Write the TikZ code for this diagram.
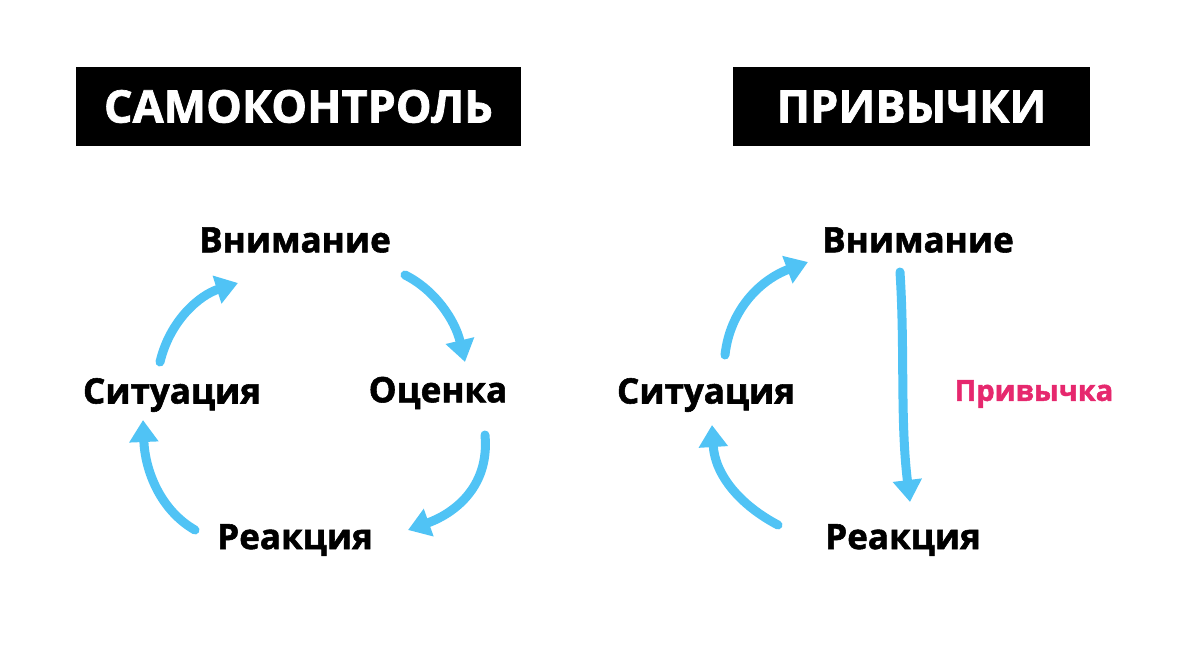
\documentclass[tikz,border=0pt]{standalone}
\usepackage{fontspec}
\setmainfont{Open Sans}[BoldFeatures={FakeBold=1.6}]
\usetikzlibrary{arrows.meta}
\definecolor{arr}{RGB}{80,195,245}
\definecolor{pinkc}{RGB}{230,40,110}
\begin{document}
\begin{tikzpicture}[x=1pt,y=-1pt,
  lbl/.style={font=\fontsize{35}{35}\selectfont\bfseries},
  ttl/.style={fill=black,text=white,font=\fontsize{45}{45}\selectfont\bfseries,minimum height=79pt,inner sep=0pt},
  ar/.style={draw=arr,line width=9pt,line cap=round,-{Triangle[length=22pt,width=28pt]}}]
\useasboundingbox (0,0) rectangle (1200,648);
\node[ttl,minimum width=445pt] (t1) at (298.5,106.5) {САМОКОНТРОЛЬ};
\node[ttl,minimum width=357pt] (t2) at (911.5,106.5) {ПРИВЫЧКИ};
\node[lbl] (v1) at (295,240) {Внимание};
\node[lbl] (s1) at (172,395) {Ситуация};
\node[lbl] (o1) at (438,393) {Оценка};
\node[lbl] (r1) at (295,540) {Реакция};
\node[lbl] (v2) at (918,240) {Внимание};
\node[lbl] (s2) at (706,395) {Ситуация};
\node[font=\fontsize{29}{29}\selectfont\bfseries,text=pinkc] (p2) at (1034,394) {Привычка};
\node[lbl] (r2) at (903,540) {Реакция};
\coordinate (a1) at (160,362);
\coordinate (a2) at (405,275);
\coordinate (a3) at (485,435);
\coordinate (a4) at (195,530);
\coordinate (b1) at (725,355);
\coordinate (b2) at (900,272);
\coordinate (b3) at (778,525);
\draw[ar] (a1) .. controls (170,320) and (200,295) .. (238,283);
\draw[ar] (a2) .. controls (435,290) and (455,320) .. (465,362);
\draw[ar] (a3) .. controls (490,490) and (450,515) .. (408,530);
\draw[ar] (a4) .. controls (160,510) and (145,470) .. (143,420);
\draw[ar] (b1) .. controls (730,310) and (760,280) .. (808,262);
\draw[ar] (b2) .. controls (905,350) and (900,420) .. (910,502);
\draw[ar] (b3) .. controls (740,505) and (715,475) .. (712,425);
\end{tikzpicture}
\end{document}
